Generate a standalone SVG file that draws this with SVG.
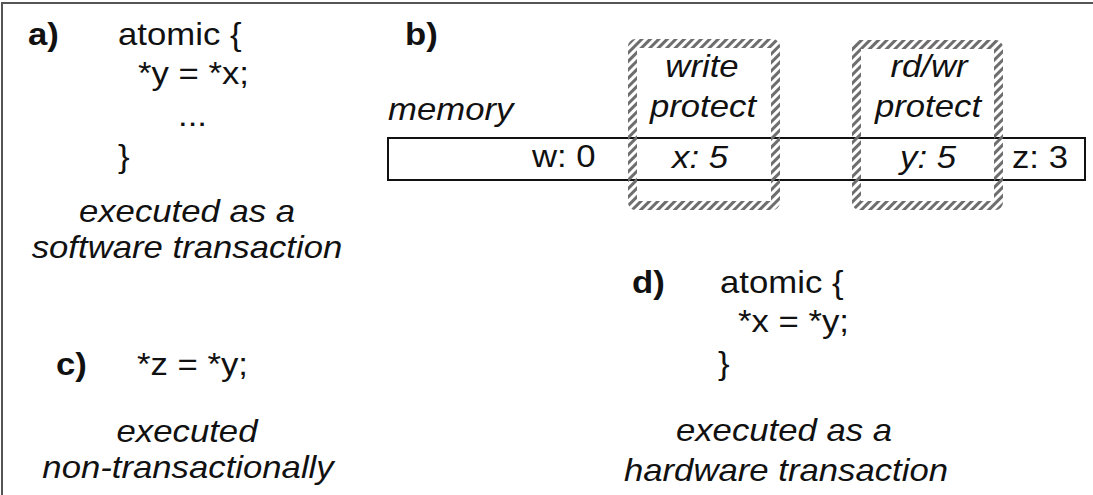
<svg xmlns="http://www.w3.org/2000/svg" width="1093" height="495" viewBox="0 0 1093 495">
<defs>
<pattern id="hatch" patternUnits="userSpaceOnUse" width="6" height="6" patternTransform="rotate(45)">
<rect width="3" height="6" fill="#6e6e6e"/>
</pattern>
</defs>
<style>
text{font-family:"Liberation Sans",Arial,Helvetica,sans-serif;font-size:31px;fill:#111;}
.b{font-weight:bold;}
.i{font-style:italic;}
.m{text-anchor:middle;}
.mem{fill:#fff;stroke:#111;stroke-width:2;}
.hb{fill:none;stroke:url(#hatch);stroke-width:9;}
.frame{stroke:#555;stroke-width:2;fill:none;}
</style>
<rect width="1093" height="495" fill="#fff"/>
<path class="frame" d="M2,495 V3 H1093"/>
<g id="connectors"/>
<g id="node-a">
<text class="b" transform="translate(28,45) scale(1.12,1)">a)</text>
<text transform="translate(118,45) scale(1.12,1)">atomic {</text>
<text transform="translate(138,84) scale(1.12,1)">*y = *x;</text>
<text transform="translate(178,126) scale(1.12,1)">...</text>
<text transform="translate(118,167) scale(1.12,1)">}</text>
<text class="i m" transform="translate(187,222) scale(1.12,1)">executed as a</text>
<text class="i m" transform="translate(187,258) scale(1.12,1)">software transaction</text>
</g>
<g id="node-b">
<text class="b" transform="translate(405,45) scale(1.12,1)">b)</text>
<text class="i" transform="translate(388,120) scale(1.12,1)">memory</text>
<rect class="mem" x="388" y="138" width="697" height="42"/>
<text transform="translate(532,167) scale(1.12,1)">w: 0</text>
<text class="i m" transform="translate(702,77) scale(1.12,1)">write</text>
<text class="i m" transform="translate(703,117) scale(1.12,1)">protect</text>
<text class="i m" transform="translate(700,168) scale(1.12,1)">x: 5</text>
<text class="i m" transform="translate(929,77) scale(1.12,1)">rd/wr</text>
<text class="i m" transform="translate(928,117) scale(1.12,1)">protect</text>
<text class="i m" transform="translate(928,168) scale(1.12,1)">y: 5</text>
<text transform="translate(1012,168) scale(1.12,1)">z: 3</text>
<rect id="write-protect" class="hb" x="632.5" y="43.5" width="143" height="162" rx="3"/>
<rect id="rdwr-protect" class="hb" x="856.5" y="44.5" width="142" height="161" rx="3"/>
</g>
<g id="node-c">
<text class="b" transform="translate(56,375) scale(1.12,1)">c)</text>
<text transform="translate(137,375) scale(1.12,1)">*z = *y;</text>
<text class="i m" transform="translate(187,442) scale(1.12,1)">executed</text>
<text class="i m" transform="translate(188,478) scale(1.12,1)">non-transactionally</text>
</g>
<g id="node-d">
<text class="b" transform="translate(632,293) scale(1.12,1)">d)</text>
<text transform="translate(720,293) scale(1.12,1)">atomic {</text>
<text transform="translate(738,332) scale(1.12,1)">*x = *y;</text>
<text transform="translate(718,374) scale(1.12,1)">}</text>
<text class="i m" transform="translate(784,441) scale(1.12,1)">executed as a</text>
<text class="i m" transform="translate(786,481) scale(1.12,1)">hardware transaction</text>
</g>
</svg>
